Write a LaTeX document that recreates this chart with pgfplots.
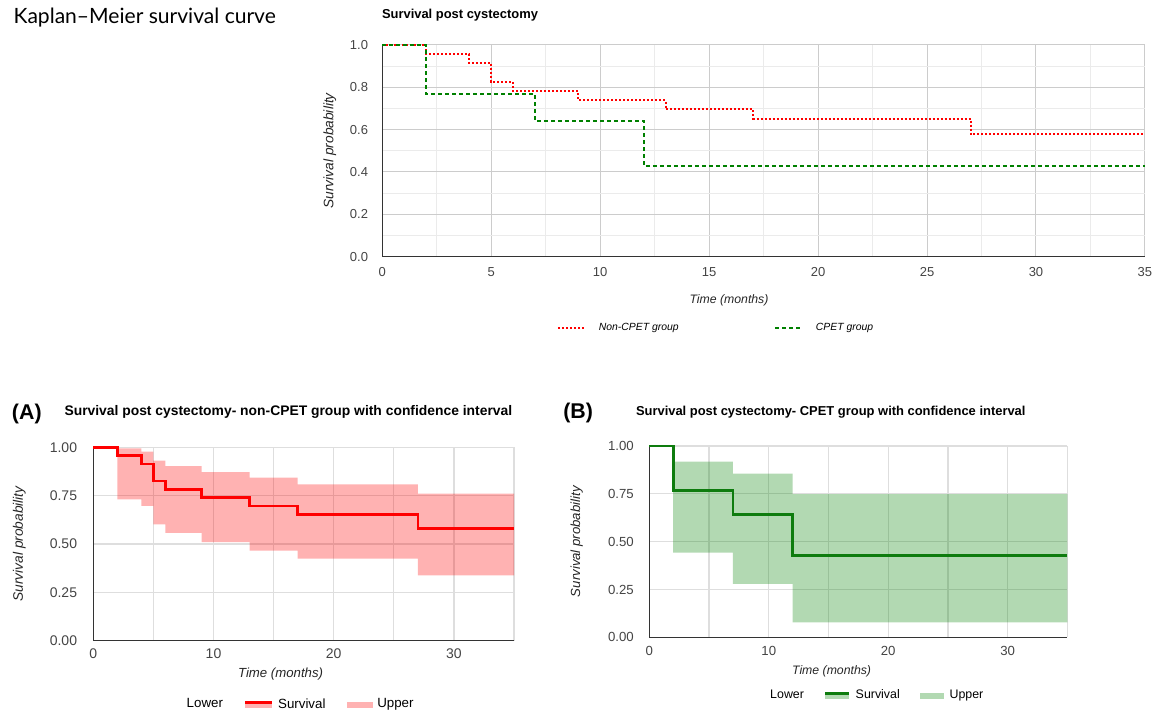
\documentclass[border=0pt]{standalone}
\usepackage{fontspec}
\setmainfont{Liberation Sans}
\newfontfamily\latofont{Lato}
\usepackage{pgfplots}
\pgfplotsset{compat=1.18}

\definecolor{kmred}{RGB}{255,0,0}
\definecolor{kmgreen}{RGB}{0,128,0}
\definecolor{darkgreen}{RGB}{14,124,14}
\definecolor{tickgray}{RGB}{68,68,68}
\definecolor{axisgray}{RGB}{51,51,51}

\pgfplotsset{
  km/.style={
    scale only axis, clip=false,
    xmin=0, xmax=35, ymin=0, ymax=1,
    axis x line*=bottom, axis y line*=left,
    axis line style={draw=axisgray, line width=1.1pt},
    major tick length=0pt, minor tick length=0pt,
    grid=both,
    /pgf/number format/assume math mode=true,
    xticklabel style={anchor=center, text=tickgray},
    yticklabel style={anchor=east, inner sep=0pt, text=tickgray},
    xlabel style={anchor=center, text=black!85},
    ylabel style={anchor=center, text=black!85},
    legend cell align=left,
  },
  blank legend/.style={legend image code/.code={\path[draw=none, fill=none] (0pt,0pt) rectangle (0.1pt,1pt);}},
}

\begin{document}
\begin{tikzpicture}
\useasboundingbox (0,0) rectangle (868.5pt,-534pt);

% top: both groups
\begin{axis}[km,
  at={(286.7pt,-192.5pt)}, anchor=south west,
  width=572pt, height=158.8pt,
  xtick={0,5,...,35}, minor xtick={2.5,7.5,...,32.5},
  ytick={0,0.2,0.4,0.6,0.8,1}, minor ytick={0.1,0.3,0.5,0.7,0.9},
  major grid style={draw=black!20, line width=0.75pt},
  minor grid style={draw=black!8, line width=0.75pt},
  xticklabel style={yshift=-11.25pt, font=\fontsize{9.75}{10}\selectfont},
  yticklabel style={xshift=-10.5pt, font=\fontsize{9.75}{10}\selectfont,
    /pgf/number format/.cd, fixed, fixed zerofill, precision=1},
  xlabel={Time (months)}, ylabel={Survival probability},
  xlabel style={at={(0.4546,-0.2045)}, font=\itshape\fontsize{9.2}{10}\selectfont},
  ylabel style={at={(-0.0686,0.5)}, font=\itshape\fontsize{10.3}{11}\selectfont},
  legend style={at={(0.229,-0.335)}, anchor=west, draw=none, fill=none,
    inner sep=0pt, legend columns=-1,
    font=\itshape\fontsize{7.8}{9}\selectfont,
    /tikz/every odd column/.append style={column sep=8.25pt},
    /tikz/every even column/.append style={column sep=69.75pt}},
  legend image code/.code={\draw[#1] (0pt,0pt) -- (19.5pt,0pt);},
]
\addplot[const plot, kmred, line width=1.5pt, dash pattern=on 1.5pt off 1.5pt]
  coordinates {(0,1) (2,0.957) (4,0.913) (5,0.826) (6,0.783) (9,0.739)
               (13,0.696) (17,0.652) (27,0.580) (35,0.580)};
\addlegendentry{Non-CPET group}
\addplot[const plot, kmgreen, line width=1.5pt, dash pattern=on 3pt off 2.25pt]
  coordinates {(0,1) (2,0.769) (7,0.641) (12,0.427) (35,0.427)};
\addlegendentry{CPET group}
\end{axis}

% (A) non-CPET with CI
\begin{axis}[km,
  at={(70pt,-480.5pt)}, anchor=south west,
  width=315.5pt, height=145pt,
  xtick={0,10,20,30}, minor xtick={5,15,25,35},
  ytick={0,0.25,0.5,0.75,1},
  major grid style={draw=black!13, line width=0.9pt},
  minor grid style={draw=black!13, line width=0.9pt},
  xticklabel style={yshift=-9.5pt, font=\fontsize{10.5}{11}\selectfont},
  yticklabel style={xshift=-12pt, font=\fontsize{10.5}{11}\selectfont,
    /pgf/number format/.cd, fixed, fixed zerofill, precision=2},
  xlabel={Time (months)}, ylabel={Survival probability},
  xlabel style={at={(0.445,-0.174)}, font=\itshape\fontsize{9.9}{11}\selectfont},
  ylabel style={at={(-0.176,0.5)}, font=\itshape\fontsize{10.3}{11}\selectfont},
  legend style={at={(0.210,-0.329)}, anchor=west, draw=none, fill=none,
    inner sep=0pt, legend columns=-1,
    font=\fontsize{10}{11}\selectfont,
    /tikz/every odd column/.append style={column sep=1.5pt},
    /tikz/every even column/.append style={column sep=13.8pt}},
]
% confidence band: upper steps left to right, lower steps right to left
\addplot[fill=kmred, fill opacity=0.3, draw=none, forget plot]
  coordinates {(2,0.995) (4,0.995) (4,0.978) (5,0.978) (5,0.931) (6,0.931)
               (6,0.903) (9,0.903) (9,0.872) (13,0.872) (13,0.843) (17,0.843)
               (17,0.809) (27,0.809) (27,0.760) (35,0.760)
               (35,0.338) (27,0.338) (27,0.424) (17,0.424) (17,0.466) (13,0.466)
               (13,0.510) (9,0.510) (9,0.557) (6,0.557) (6,0.602) (5,0.602)
               (5,0.697) (4,0.697) (4,0.731) (2,0.731)};
\addplot[const plot, kmred, line width=2pt, forget plot]
  coordinates {(0,1) (2,0.957) (4,0.913) (5,0.826) (6,0.783) (9,0.739)
               (13,0.696) (17,0.652) (27,0.580) (35,0.580)};
\addlegendimage{blank legend}
\addlegendentry{Lower}
\addlegendimage{legend image code/.code={
  \path[draw=none, fill=kmred, fill opacity=0.3] (0pt,-3pt) rectangle (20pt,1.8pt);
  \path[draw=kmred, line width=2pt] (0pt,1.2pt) -- (20pt,1.2pt);}}
\addlegendentry{Survival}
\addlegendimage{legend image code/.code={
  \path[draw=none, fill=kmred, fill opacity=0.3] (0pt,-3pt) rectangle (19.5pt,1.8pt);}}
\addlegendentry{Upper}
\end{axis}

% (B) CPET with CI
\begin{axis}[km,
  at={(487pt,-478pt)}, anchor=south west,
  width=313.5pt, height=143.5pt,
  xtick={0,10,20,30}, minor xtick={5,15,25,35},
  ytick={0,0.25,0.5,0.75,1},
  major grid style={draw=black!13, line width=0.9pt},
  minor grid style={draw=black!13, line width=0.9pt},
  xticklabel style={yshift=-10pt, font=\fontsize{9.9}{11}\selectfont},
  yticklabel style={xshift=-11.5pt, font=\fontsize{9.9}{11}\selectfont,
    /pgf/number format/.cd, fixed, fixed zerofill, precision=2},
  xlabel={Time (months)}, ylabel={Survival probability},
  xlabel style={at={(0.436,-0.176)}, font=\itshape\fontsize{9.2}{10}\selectfont},
  ylabel style={at={(-0.174,0.5)}, font=\itshape\fontsize{9.9}{11}\selectfont},
  legend style={at={(0.2755,-0.302)}, anchor=west, draw=none, fill=none,
    inner sep=0pt, legend columns=-1,
    font=\fontsize{9.3}{10}\selectfont,
    /tikz/every odd column/.append style={column sep=2pt},
    /tikz/every even column/.append style={column sep=12.8pt}},
]
\addplot[fill=kmgreen, fill opacity=0.3, draw=none, forget plot]
  coordinates {(2,0.918) (7,0.918) (7,0.855) (12,0.855) (12,0.749) (35,0.749)
               (35,0.078) (12,0.078) (12,0.280) (7,0.280) (7,0.443) (2,0.443)};
\addplot[const plot, darkgreen, line width=2pt, forget plot]
  coordinates {(0,1) (2,0.769) (7,0.641) (12,0.427) (35,0.427)};
\addlegendimage{blank legend}
\addlegendentry{Lower}
\addlegendimage{legend image code/.code={
  \path[draw=none, fill=kmgreen, fill opacity=0.3] (0pt,-3pt) rectangle (18pt,1.8pt);
  \path[draw=darkgreen, line width=2pt] (0pt,1.2pt) -- (18pt,1.2pt);}}
\addlegendentry{Survival}
\addlegendimage{legend image code/.code={
  \path[draw=none, fill=kmgreen, fill opacity=0.3] (0pt,-3pt) rectangle (18.5pt,1.8pt);}}
\addlegendentry{Upper}
\end{axis}

% titles
\node[anchor=base west, inner sep=0pt, font=\latofont\fontsize{15.8}{18}\selectfont]
  at (10pt,-17.5pt) {Kaplan–Meier survival curve};
\node[anchor=base west, inner sep=0pt, font=\bfseries\fontsize{9.7}{11}\selectfont]
  at (286.3pt,-13.7pt) {Survival post cystectomy};
\node[anchor=base west, inner sep=0pt, font=\bfseries\fontsize{16}{18}\selectfont]
  at (8.8pt,-314.3pt) {(A)};
\node[anchor=base west, inner sep=0pt, font=\bfseries\fontsize{10.4}{12}\selectfont]
  at (48.2pt,-311.3pt) {Survival post cystectomy- non-CPET group with confidence interval};
\node[anchor=base west, inner sep=0pt, font=\bfseries\fontsize{16}{18}\selectfont]
  at (422.3pt,-313.7pt) {(B)};
\node[anchor=base west, inner sep=0pt, font=\bfseries\fontsize{9.7}{11}\selectfont]
  at (476.8pt,-311.3pt) {Survival post cystectomy- CPET group with confidence interval};
\end{tikzpicture}
\end{document}
